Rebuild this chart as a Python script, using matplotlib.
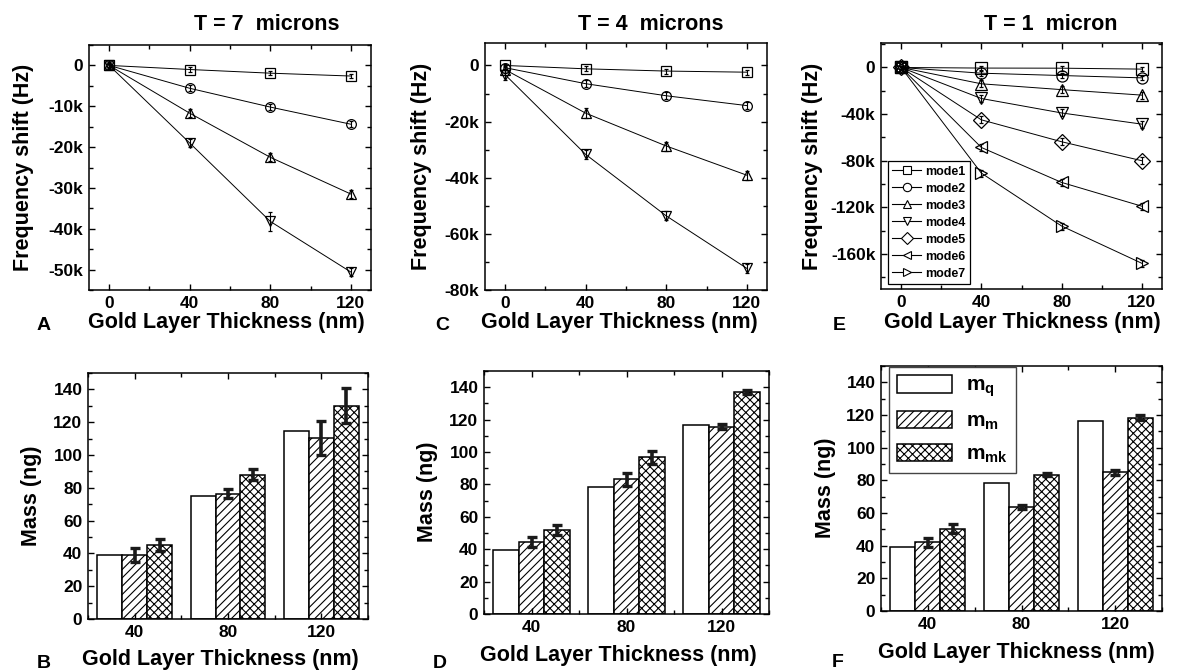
import numpy as np
import matplotlib
matplotlib.use('Agg')
import matplotlib.pyplot as plt
from matplotlib.ticker import MultipleLocator, FuncFormatter
from matplotlib.lines import Line2D

plt.rcParams['font.family'] = ['Liberation Sans', 'DejaVu Sans']
plt.rcParams['font.weight'] = 'bold'
plt.rcParams['axes.unicode_minus'] = False
plt.rcParams['hatch.linewidth'] = 0.8
plt.rcParams['mathtext.fontset'] = 'custom'
plt.rcParams['mathtext.rm'] = 'Liberation Sans:bold'
plt.rcParams['mathtext.bf'] = 'Liberation Sans:bold'
plt.rcParams['mathtext.it'] = 'Liberation Sans:bold'

# ---- frequency shift vs gold thickness (Hz) ----
thickness = [0, 40, 80, 120]
mode_labels = ['mode1', 'mode2', 'mode3', 'mode4', 'mode5', 'mode6', 'mode7']
mode_markers = ['s', 'o', '^', 'v', 'D', '<', '>']

shift_7um = [
    [0, -1000, -1900, -2600],
    [0, -5600, -10200, -14400],
    [0, -11700, -22500, -31500],
    [0, -19000, -38200, -50600],
]
err_7um = [
    [400, 500, 500, 500],
    [400, 700, 700, 700],
    [600, 1000, 1000, 1000],
    [900, 1000, 2300, 1000],
]
shift_4um = [
    [0, -1200, -2000, -2400],
    [-800, -6500, -10800, -14300],
    [-1500, -17000, -28700, -39100],
    [-3300, -31700, -53600, -72300],
]
err_4um = [
    [600, 900, 900, 900],
    [900, 1200, 1200, 1200],
    [1200, 1800, 1600, 1600],
    [2000, 1600, 1600, 1600],
]
shift_1um = [
    [0, -500, -600, -1400],
    [0, -4900, -6900, -8900],
    [0, -14000, -19000, -23700],
    [0, -26600, -39000, -48600],
    [0, -44900, -63700, -80000],
    [0, -68600, -98600, -119000],
    [0, -90600, -136000, -168000],
]
err_1um = [
    [1500, 2000, 2000, 2000],
    [1500, 2000, 2000, 2000],
    [1500, 3000, 3000, 3000],
    [1500, 3000, 3000, 3000],
    [1500, 3000, 3000, 3000],
    [1500, 3000, 3000, 3000],
    [1500, 3000, 3000, 3000],
]

# ---- extracted mass (ng) ----
groups = [40, 80, 120]
mass_labels = [r'$\mathbf{m}_{\mathbf{q}}$', r'$\mathbf{m}_{\mathbf{m}}$', r'$\mathbf{m}_{\mathbf{mk}}$']

mq_7um = [39.0, 75.0, 114.5]
mm_7um = [39.0, 76.5, 110.5]
mm_err_7um = [4.0, 3.0, 10.5]
mmk_7um = [45.0, 88.0, 130.0]
mmk_err_7um = [3.5, 3.3, 10.7]

mq_4um = [39.5, 78.3, 116.6]
mm_4um = [44.3, 83.3, 115.5]
mm_err_4um = [3.0, 4.0, 1.5]
mmk_4um = [51.8, 96.8, 137.0]
mmk_err_4um = [3.0, 4.0, 1.5]

mq_1um = [39.2, 78.4, 116.5]
mm_1um = [42.0, 63.6, 85.0]
mm_err_1um = [3.0, 1.0, 1.5]
mmk_1um = [50.5, 83.5, 118.4]
mmk_err_1um = [3.0, 1.0, 1.5]

titles = ['T = 7  microns', 'T = 4  microns', 'T = 1  micron']

W, H = 1189, 672
fig = plt.figure(figsize=(W / 100, H / 100), dpi=100)


def box(x0, y0, x1, y1):
    return [x0 / W, 1 - y1 / H, (x1 - x0) / W, (y1 - y0) / H]


def fpos(x, y):
    return (x / W, 1 - y / H)


def ftext(x, y, s, **kw):
    fig.text(*fpos(x, y), s, **kw)


def style_axes(ax):
    ax.tick_params(which='both', direction='in', top=True, right=True,
                   labelsize=12.5, width=1.0, pad=4)
    ax.tick_params(which='major', length=4)
    ax.tick_params(which='minor', length=3)
    for sp in ax.spines.values():
        sp.set_linewidth(1.1)


def khz(v, pos):
    return '0' if v == 0 else f'{v / 1000:.0f}k'


def shift_panel(rect, shifts, errs, ylim, major, ms):
    ax = fig.add_axes(rect)
    for vals, err, mk in zip(shifts, errs, mode_markers):
        ax.errorbar(thickness, vals, yerr=err, color='k', lw=0.7,
                    marker=mk, ms=ms, mfc='none', mec='k', mew=0.9,
                    elinewidth=0.8, capsize=1.2, capthick=0.8)
    ax.set_xlim(-10, 130)
    ax.set_ylim(*ylim)
    ax.xaxis.set_major_locator(MultipleLocator(40))
    ax.xaxis.set_minor_locator(MultipleLocator(20))
    ax.yaxis.set_major_locator(MultipleLocator(major))
    ax.yaxis.set_minor_locator(MultipleLocator(major / 2))
    ax.yaxis.set_major_formatter(FuncFormatter(khz))
    style_axes(ax)
    return ax


def mass_panel(rect, mq, mm, mm_err, mmk, mmk_err):
    ax = fig.add_axes(rect)
    w = 10.7
    x = np.array(groups, dtype=float)
    b1 = ax.bar(x - w, mq, w, facecolor='white', edgecolor='k', lw=1.1)
    b2 = ax.bar(x, mm, w, facecolor='white', edgecolor='k', lw=1.1, hatch='////')
    b3 = ax.bar(x + w, mmk, w, facecolor='white', edgecolor='k', lw=1.1, hatch='xxxx')
    for xs, vals, err in [(x, mm, mm_err), (x + w, mmk, mmk_err)]:
        ax.errorbar(xs, vals, yerr=err, fmt='none', ecolor='#1a1a1a',
                    elinewidth=2.6, capsize=3.5, capthick=2.4, zorder=5)
    ax.set_xlim(20, 140)
    ax.set_ylim(0, 150)
    ax.set_xticks(groups)
    ax.xaxis.set_minor_locator(MultipleLocator(20))
    ax.yaxis.set_major_locator(MultipleLocator(20))
    ax.yaxis.set_minor_locator(MultipleLocator(10))
    style_axes(ax)
    return ax, (b1, b2, b3)


# top row: frequency shift
axA = shift_panel(box(89, 45, 371, 290), shift_7um, err_7um, (-55000, 5000), 10000, 7)
axC = shift_panel(box(485, 43, 767, 290), shift_4um, err_4um, (-80000, 8000), 20000, 7)
axE = shift_panel(box(881, 43, 1162, 289), shift_1um, err_1um, (-190000, 21000), 40000, 8)

mode_handles = [Line2D([], [], color='k', lw=0.8, marker=mk, ms=6, mfc='white',
                       mec='k', mew=0.8) for mk in mode_markers]
leg = axE.legend(mode_handles, mode_labels, fontsize=9,
                 loc='lower left', bbox_to_anchor=fpos(888, 284),
                 bbox_transform=fig.transFigure, borderaxespad=0,
                 handlelength=2.3, labelspacing=0.4, borderpad=0.35,
                 handletextpad=0.3, fancybox=False, framealpha=1)
leg.get_frame().set_edgecolor('k')
leg.get_frame().set_linewidth(0.9)

# bottom row: mass
axB, _ = mass_panel(box(88, 373, 368, 619), mq_7um, mm_7um, mm_err_7um, mmk_7um, mmk_err_7um)
axD, _ = mass_panel(box(484, 371, 769, 614), mq_4um, mm_4um, mm_err_4um, mmk_4um, mmk_err_4um)
axF, bars = mass_panel(box(881, 366, 1162, 611), mq_1um, mm_1um, mm_err_1um, mmk_1um, mmk_err_1um)
leg2 = axF.legend(bars, mass_labels, fontsize=15,
                  loc='upper left', bbox_to_anchor=fpos(889, 367),
                  bbox_transform=fig.transFigure, borderaxespad=0,
                  handlelength=2.6, handleheight=0.9, labelspacing=0.55,
                  borderpad=0.4, handletextpad=0.7, fancybox=False,
                  framealpha=1)
leg2.get_frame().set_edgecolor('#444444')
leg2.get_frame().set_linewidth(1.0)

# titles
for xc, t in zip([267, 651, 1051], titles):
    ftext(xc, 30, t, ha='center', va='baseline', fontsize=15.5, fontweight='bold')

# axis labels
xl = 'Gold Layer Thickness (nm)'
for xc, yb in [(226, 328), (619, 328), (1022, 328), (220, 665), (618, 661), (1016, 658)]:
    ftext(xc, yb, xl, ha='center', va='baseline', fontsize=15.5, fontweight='bold')

for xc, yc in [(23, 167), (422, 166), (812, 166)]:
    ftext(xc, yc, 'Frequency shift (Hz)', ha='center', va='center', rotation=90,
          fontsize=15.5, fontweight='bold')
for xc, yc in [(32, 496), (428, 492), (826, 488)]:
    ftext(xc, yc, 'Mass (ng)', ha='center', va='center', rotation=90,
          fontsize=15.5, fontweight='bold')

# panel letters
for x, y, s in [(37, 330, 'A'), (435, 330, 'C'), (833, 330, 'E'),
                (37, 668, 'B'), (433, 668, 'D'), (832, 667, 'F')]:
    ftext(x, y, s, ha='left', va='baseline', fontsize=14, fontweight='bold')

fig.savefig('out.png', dpi=100)
